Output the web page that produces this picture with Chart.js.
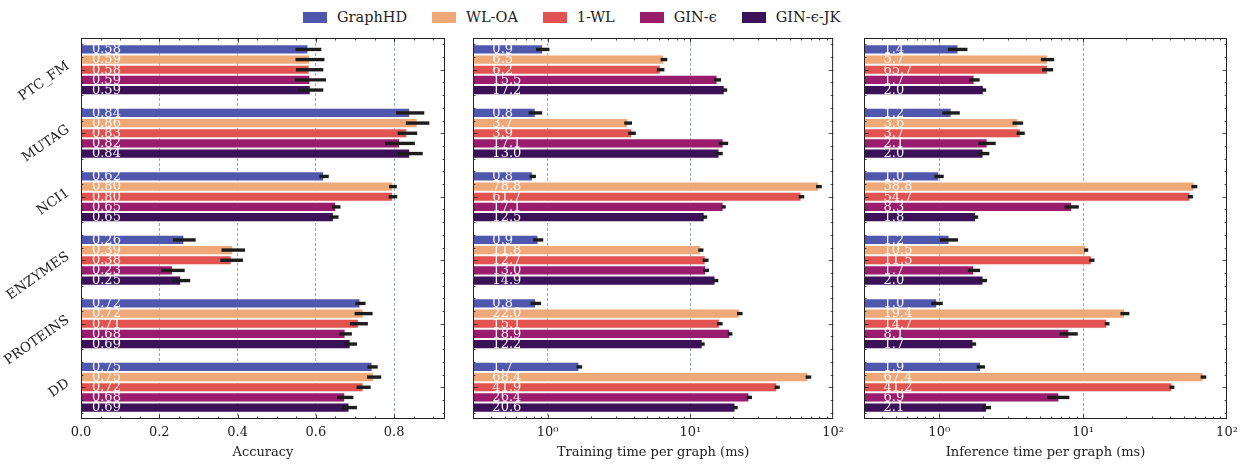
<!DOCTYPE html>
<html>
<head>
<meta charset="utf-8">
<script src="https://cdn.jsdelivr.net/npm/chart.js@4.4.1/dist/chart.umd.min.js"></script>
<style>
  html, body { margin: 0; padding: 0; background: #fff; }
  #page { position: relative; width: 1246px; height: 464px; overflow: hidden; }
  .panel { position: absolute; top: 0; height: 464px; }
  #legend { position: absolute; top: 9px; left: 303px; display: flex; align-items: center;
    font-family: "DejaVu Serif", serif; font-size: 14.5px; color: #222; }
  #legend .item { display: flex; align-items: center; margin-right: 25px; }
  #legend .box { width: 24px; height: 11px; margin-right: 10px; }
</style>
</head>
<body>
<div id="page">
  <div id="legend"></div>
  <div class="panel" style="left:0;width:460px"><canvas id="accChart"></canvas></div>
  <div class="panel" style="left:460px;width:390px"><canvas id="trainChart"></canvas></div>
  <div class="panel" style="left:850px;width:396px"><canvas id="inferChart"></canvas></div>
</div>
<script>
// Benchmark datasets (y categories, top to bottom) and the compared methods.
const graphSets = ['PTC_FM', 'MUTAG', 'NCI1', 'ENZYMES', 'PROTEINS', 'DD'];
const methods = ['GraphHD', 'WL-OA', '1-WL', 'GIN-ϵ', 'GIN-ϵ-JK'];
const methodColors = ['#5058ae', '#efa878', '#e15350', '#991d6c', '#3b1158'];

// One row per method, one column per dataset.
const accValues = [
  [0.581, 0.841, 0.621, 0.264, 0.714, 0.745],
  [0.585, 0.860, 0.797, 0.389, 0.722, 0.749],
  [0.584, 0.834, 0.797, 0.385, 0.710, 0.722],
  [0.586, 0.815, 0.652, 0.235, 0.676, 0.675],
  [0.587, 0.841, 0.646, 0.256, 0.689, 0.686],
];
const accErrors = [
  [0.033, 0.036, 0.012, 0.029, 0.013, 0.013],
  [0.037, 0.030, 0.010, 0.030, 0.023, 0.018],
  [0.035, 0.025, 0.011, 0.029, 0.023, 0.018],
  [0.040, 0.038, 0.011, 0.030, 0.016, 0.021],
  [0.032, 0.032, 0.012, 0.023, 0.016, 0.019],
];
const accLabels = [
  ['0.58', '0.84', '0.62', '0.26', '0.72', '0.75'],
  ['0.59', '0.86', '0.80', '0.39', '0.72', '0.75'],
  ['0.58', '0.83', '0.80', '0.38', '0.71', '0.72'],
  ['0.59', '0.82', '0.65', '0.23', '0.68', '0.68'],
  ['0.59', '0.84', '0.65', '0.25', '0.69', '0.69'],
];

// Training time per graph (ms)
const trainValues = [
  [0.93, 0.826, 0.788, 0.862, 0.83, 1.67],
  [6.54, 3.67, 79.6, 11.85, 22.2, 67.2],
  [6.2, 3.91, 60.1, 12.8, 16.1, 40.6],
  [15.5, 17.1, 17.1, 12.9, 19.0, 25.9],
  [17.4, 16.0, 12.6, 15.0, 12.2, 20.7],
];
const trainErrors = [
  [0.10, 0.09, 0.04, 0.07, 0.07, 0.075],
  [0.35, 0.23, 3.7, 0.5, 1.0, 3.0],
  [0.38, 0.24, 2.7, 0.6, 0.7, 1.7],
  [0.9, 1.3, 0.6, 0.6, 0.7, 1.1],
  [0.7, 0.85, 0.5, 0.7, 0.4, 0.75],
];
const trainLabels = [
  ['0.9', '0.8', '0.8', '0.9', '0.8', '1.7'],
  ['6.5', '3.7', '78.8', '11.8', '22.0', '68.4'],
  ['6.2', '3.9', '61.7', '12.7', '15.1', '41.9'],
  ['15.5', '17.1', '17.1', '13.0', '18.9', '26.4'],
  ['17.2', '13.0', '12.5', '14.9', '12.2', '20.6'],
];

// Inference time per graph (ms)
const inferValues = [
  [1.36, 1.22, 1.0, 1.18, 0.968, 1.95],
  [5.69, 3.53, 59.4, 10.5, 19.56, 68.7],
  [5.69, 3.69, 55.7, 11.5, 14.7, 41.5],
  [1.76, 2.17, 8.38, 1.75, 8.03, 6.83],
  [2.04, 2.03, 1.80, 2.03, 1.73, 2.15],
];
const inferErrors = [
  [0.21, 0.17, 0.075, 0.17, 0.09, 0.13],
  [0.6, 0.3, 2.8, 0.35, 1.4, 3.1],
  [0.5, 0.24, 2.3, 0.5, 0.55, 1.6],
  [0.15, 0.3, 0.95, 0.17, 1.15, 1.2],
  [0.08, 0.2, 0.065, 0.12, 0.075, 0.14],
];
const inferLabels = [
  ['1.4', '1.2', '1.0', '1.2', '1.0', '1.9'],
  ['5.7', '3.6', '58.8', '10.5', '19.4', '67.4'],
  ['65.7', '3.7', '54.7', '11.5', '14.7', '41.2'],
  ['1.7', '2.1', '8.3', '1.7', '8.1', '6.9'],
  ['2.0', '2.0', '1.8', '2.0', '1.7', '2.1'],
];

const linearMajor = [0, 0.2, 0.4, 0.6, 0.8];
const logMajor = [1, 10, 100];
const logTickText = { 1: '10⁰', 10: '10¹', 100: '10²' };

const SERIF = '"DejaVu Serif", serif';
const INK = '#222';
const GRID = '#8fa0b0';

function minorLinear() {
  const out = [];
  for (let k = 0; k <= 18; k++) out.push(k * 0.05);
  return out;
}
function minorLog() {
  const out = [];
  for (const d of [0.1, 1, 10]) for (let m = 2; m <= 9; m++) out.push(m * d);
  return out.filter((v) => v >= 0.3);
}

// error bars, in-bar value text, frame and inward ticks on all four sides
const panelDeco = {
  id: 'panelDeco',
  afterDatasetsDraw(chart, args, opts) {
    const { ctx, chartArea: a } = chart;
    const xs = chart.scales.x;
    const ys = chart.scales.y;
    ctx.save();

    ctx.strokeStyle = '#1c1c1c';
    ctx.lineWidth = 3.4;
    chart.data.datasets.forEach((ds, i) => {
      chart.getDatasetMeta(i).data.forEach((bar, j) => {
        const v = ds.data[j];
        const e = ds.errors[j];
        ctx.beginPath();
        ctx.moveTo(xs.getPixelForValue(v - e), bar.y);
        ctx.lineTo(xs.getPixelForValue(v + e), bar.y);
        ctx.stroke();
      });
    });

    ctx.fillStyle = 'rgba(255,255,255,0.94)';
    ctx.font = '13px ' + SERIF;
    ctx.textAlign = 'left';
    ctx.textBaseline = 'middle';
    const lx = xs.getPixelForValue(opts.labelAt);
    chart.data.datasets.forEach((ds, i) => {
      chart.getDatasetMeta(i).data.forEach((bar, j) => {
        ctx.fillText(ds.valueLabels[j], lx, bar.y + 0.5);
      });
    });

    ctx.strokeStyle = INK;
    ctx.lineWidth = 1;
    ctx.strokeRect(a.left + 0.5, a.top + 0.5, a.right - a.left - 1, a.bottom - a.top - 1);

    ctx.lineWidth = 0.8;
    const tick = (x1, y1, x2, y2) => {
      ctx.beginPath(); ctx.moveTo(x1, y1); ctx.lineTo(x2, y2); ctx.stroke();
    };
    const xTicks = (vals, len) => vals.forEach((v) => {
      const px = Math.round(xs.getPixelForValue(v)) + 0.5;
      if (px < a.left || px > a.right) return;
      tick(px, a.top, px, a.top + len);
      tick(px, a.bottom, px, a.bottom - len);
    });
    xTicks(opts.xMajor, 4.5);
    xTicks(opts.xMinor, 2.5);
    for (let k = -2; k <= 27; k++) {
      const v = k / 5;
      const py = Math.round(ys.getPixelForValue(v)) + 0.5;
      if (py <= a.top + 1 || py >= a.bottom - 1) continue;
      const len = k % 5 === 0 ? 4.5 : 2.5;
      tick(a.left, py, a.left + len, py);
      tick(a.right, py, a.right - len, py);
    }
    ctx.restore();
  },
};

function buildPanel(canvasId, cfg) {
  const datasets = methods.map((name, i) => ({
    label: name,
    data: cfg.values[i],
    errors: cfg.errors[i],
    valueLabels: cfg.labels[i],
    backgroundColor: methodColors[i],
    borderColor: 'rgba(255,238,238,0.55)',
    borderWidth: 1,
    borderSkipped: 'start',
    categoryPercentage: 0.8,
    barPercentage: 1.0,
  }));

  const isLog = cfg.kind === 'log';
  const xScale = {
    type: isLog ? 'logarithmic' : 'linear',
    min: cfg.min,
    max: cfg.max,
    afterFit: (s) => { s.height = 45; },
    border: { display: false, dash: [3, 2] },
    grid: {
      drawTicks: false,
      color: (c) => (cfg.gridAt.includes(c.tick && +c.tick.value.toFixed(3)) ? GRID : 'rgba(0,0,0,0)'),
      lineWidth: 0.9,
    },
    ticks: {
      autoSkip: false,
      maxRotation: 0,
      padding: 6,
      color: INK,
      font: { family: SERIF, size: 13 },
      includeBounds: false,
      callback: isLog
        ? (v) => logTickText[+Number(v).toFixed(3)] || ''
        : (v) => Number(v).toFixed(1),
    },
    title: {
      display: true,
      text: cfg.title,
      color: INK,
      font: { family: SERIF, size: 13 },
      padding: { top: 0, bottom: 4 },
    },
  };
  if (!isLog) xScale.ticks.stepSize = 0.2;

  const yScale = {
    type: 'category',
    offset: true,
    afterFit: (s) => { s.width = cfg.yWidth; },
    border: { display: false },
    grid: { display: false },
    ticks: cfg.showY
      ? { minRotation: 35, maxRotation: 35, padding: 5, labelOffset: -5,
          color: INK, font: { family: SERIF, size: 13.5 } }
      : { display: false },
  };

  return new Chart(document.getElementById(canvasId), {
    type: 'bar',
    data: { labels: graphSets, datasets },
    options: {
      indexAxis: 'y',
      responsive: true,
      maintainAspectRatio: false,
      animation: false,
      layout: { padding: { left: 0, right: cfg.padRight, top: 38, bottom: 0 } },
      plugins: {
        legend: { display: false },
        tooltip: { enabled: false },
        panelDeco: { labelAt: cfg.labelAt, xMajor: cfg.xMajor, xMinor: cfg.xMinor },
      },
      scales: { x: xScale, y: yScale },
    },
    plugins: [panelDeco],
  });
}

buildPanel('accChart', {
  kind: 'linear', min: 0, max: 0.93, title: 'Accuracy',
  values: accValues, errors: accErrors, labels: accLabels,
  gridAt: [0.2, 0.4, 0.6, 0.8], xMajor: linearMajor, xMinor: minorLinear(),
  labelAt: 0.028, yWidth: 81, padRight: 15, showY: true,
});
buildPanel('trainChart', {
  kind: 'log', min: 0.3, max: 100, title: 'Training time per graph (ms)',
  values: trainValues, errors: trainErrors, labels: trainLabels,
  gridAt: [1, 10], xMajor: logMajor, xMinor: minorLog(),
  labelAt: 0.41, yWidth: 13, padRight: 14, showY: false,
});
buildPanel('inferChart', {
  kind: 'log', min: 0.3, max: 100, title: 'Inference time per graph (ms)',
  values: inferValues, errors: inferErrors, labels: inferLabels,
  gridAt: [1, 10], xMajor: logMajor, xMinor: minorLog(),
  labelAt: 0.41, yWidth: 14, padRight: 19, showY: false,
});

// legend row above the panels
const legendEl = document.getElementById('legend');
methods.forEach((name, i) => {
  const item = document.createElement('div');
  item.className = 'item';
  const box = document.createElement('span');
  box.className = 'box';
  box.style.background = methodColors[i];
  const label = document.createElement('span');
  label.textContent = name;
  item.appendChild(box);
  item.appendChild(label);
  legendEl.appendChild(item);
});
</script>
</body>
</html>
